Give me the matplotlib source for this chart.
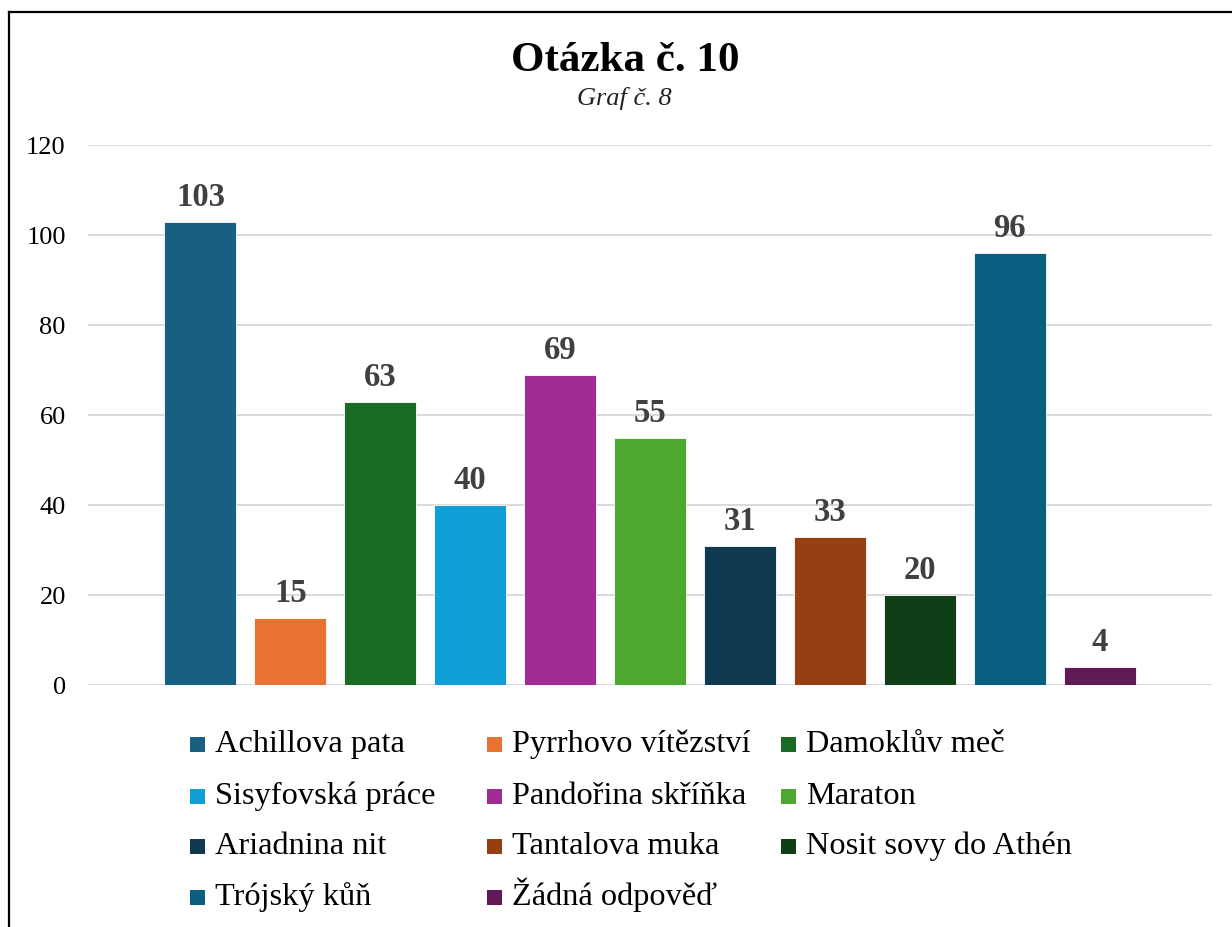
import matplotlib
matplotlib.use("Agg")
import matplotlib.pyplot as plt
from matplotlib.lines import Line2D
from matplotlib.patches import Rectangle

plt.rcParams['font.family'] = ['Liberation Serif', 'DejaVu Serif']

categories = ["Achillova pata", "Pyrrhovo vítězství", "Damoklův meč",
              "Sisyfovská práce", "Pandořina skříňka", "Maraton",
              "Ariadnina nit", "Tantalova muka", "Nosit sovy do Athén",
              "Trójský kůň", "Žádná odpověď"]
values = [103, 15, 63, 40, 69, 55, 31, 33, 20, 96, 4]
colors = ["#176082", "#E97132", "#196B24", "#0F9ED5", "#A02B93", "#4EA72E",
          "#0E394E", "#963F12", "#103F17", "#0A5E80", "#601A58"]
yticks = [0, 20, 40, 60, 80, 100, 120]

W, H = 1232, 928
fig = plt.figure(figsize=(W / 100, H / 100), dpi=100)
fig.patch.set_facecolor("white")

# plot area: x 88..1212, y 146..686 (pixels from top)
ax = fig.add_axes([88 / W, 1 - 686 / H, (1212 - 88) / W, (686 - 146) / H])

x = list(range(len(values)))
bars = ax.bar(x, values, width=0.8, color=colors, edgecolor="white",
              linewidth=0.6, zorder=3)
for xi, v in zip(x, values):
    ax.annotate(str(v), (xi, v), xytext=(0, 7), textcoords="offset points",
                ha="center", va="bottom", fontsize=23.5, fontweight="bold",
                color="#404040")

ax.set_xlim(-1.25, 11.25)
ax.set_ylim(0, 120)
ax.set_yticks(yticks)
ax.set_xticks([])
ax.tick_params(axis="y", length=0, labelsize=19, pad=16, colors="#000000")
ax.grid(axis="y", color="#d9d9d9", linewidth=1.4, zorder=0)
for s in ax.spines.values():
    s.set_visible(False)

fig.text(625 / W, 1 - 61 / H, "Otázka č. 10", ha="center", va="center",
         fontsize=31, fontweight="bold")
fig.text(624 / W, 1 - 98 / H, "Graf č. 8", ha="center", va="center",
         fontsize=19, fontstyle="italic", color="#222222")

# legend drawn row-wise, 3 columns
col_x = [190, 487, 781]
row_y = [745, 797, 847, 898]
sq = 15
for i, (name, col) in enumerate(zip(categories, colors)):
    r, c = divmod(i, 3)
    cx, cy = col_x[c], row_y[r]
    fig.add_artist(Rectangle((cx / W, 1 - (cy + sq / 2) / H), sq / W, sq / H,
                             facecolor=col, edgecolor="none",
                             transform=fig.transFigure))
    fig.text((cx + 25) / W, 1 - (cy + 7) / H, name, ha="left",
             va="baseline", fontsize=23.3, color="#000000")

# outer frame (left and top edges)
fig.add_artist(Line2D([8.5 / W, 8.5 / W], [0, 1 - 12.5 / H], color="black",
                      linewidth=1.6, transform=fig.transFigure))
fig.add_artist(Line2D([8.5 / W, 1], [1 - 12.5 / H, 1 - 12.5 / H], color="black",
                      linewidth=1.6, transform=fig.transFigure))

fig.savefig("out.png", dpi=100, facecolor="white")
